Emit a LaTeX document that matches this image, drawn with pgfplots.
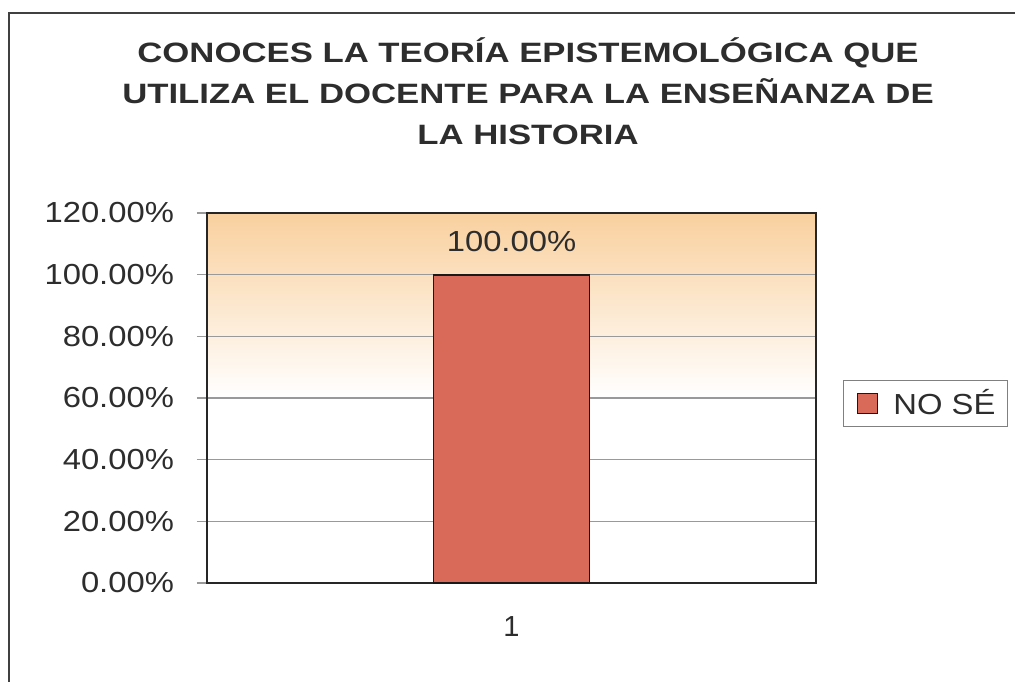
\documentclass[border=0pt]{standalone}
\usepackage{pgfplots}
\pgfplotsset{compat=1.18}
\usepackage{fontspec}
\setmainfont{Liberation Sans}
\definecolor{barred}{RGB}{217,106,90}
\definecolor{peach}{RGB}{249,208,158}
\definecolor{txt}{RGB}{45,45,45}
\pgfdeclareverticalshading{bgshade}{100bp}{color(0bp)=(white); color(25bp)=(white); color(50bp)=(white); color(75bp)=(peach); color(100bp)=(peach)}
\begin{document}
\begin{tikzpicture}
\useasboundingbox (0pt,0pt) rectangle (507.5pt,340.5pt);
\draw[line width=1.1pt, color=black!75] (4.5pt,-10pt) -- (4.5pt,334pt) -- (530pt,334pt);
\node[font=\fontsize{14}{20.5}\selectfont\bfseries, color=txt, align=center] at (264pt,295pt)
  {\scalebox{1.24}[1]{CONOCES LA TEORÍA EPISTEMOLÓGICA QUE}\\
   \scalebox{1.24}[1]{UTILIZA EL DOCENTE PARA LA ENSEÑANZA DE}\\
   \scalebox{1.24}[1]{LA HISTORIA}};
\begin{axis}[
  at={(103.5pt,49pt)}, anchor=south west,
  scale only axis, width=304.5pt, height=185pt,
  ymin=0, ymax=120, xmin=0.5, xmax=1.5,
  ytick={0,20,...,120}, xtick={1}, xticklabels={1},
  ymajorgrids, grid style={black!40, line width=0.6pt},
  axis line style={black!85, line width=1pt},
  axis background/.style={shading=bgshade},
  tick align=outside, major tick length=5pt, tick pos=left,
  xtick style={draw=none},
  ytick style={black!40, line width=0.6pt},
  /pgf/number format/assume math mode=true,
  yticklabel={\scalebox{1.13}[1]{\pgfmathprintnumber[fixed,fixed zerofill,precision=2]{\tick}\%}},
  tick label style={font=\fontsize{14.5}{17}\selectfont, color=txt},
  yticklabel style={xshift=-8pt},
  xticklabel style={yshift=-8pt},
  ybar, bar width=78pt,
  nodes near coords={\scalebox{1.13}[1]{\pgfmathprintnumber[fixed,fixed zerofill,precision=2]{\pgfplotspointmeta}\%}},
  every node near coord/.append style={font=\fontsize{14.5}{17}\selectfont, color=txt, yshift=7.5pt},
  legend style={at={(1.044,0.549)}, anchor=north west, draw=black!50, line width=0.6pt,
    font=\fontsize{14.5}{17}\selectfont, text=txt, inner xsep=4pt, inner ysep=2.5pt, row sep=0pt},
  legend image code/.code={\path[draw=none,fill=none] (0pt,0pt) -- (19pt,0pt);
    \draw[fill=barred, draw=black!90, line width=0.9pt] (3pt,-5pt) rectangle (13pt,5pt);},
]
\addplot[fill=barred, draw=black!90, line width=0.9pt] coordinates {(1,100)};
\addlegendentry{\scalebox{1.13}[1]{NO SÉ}}
\end{axis}
\end{tikzpicture}
\end{document}
